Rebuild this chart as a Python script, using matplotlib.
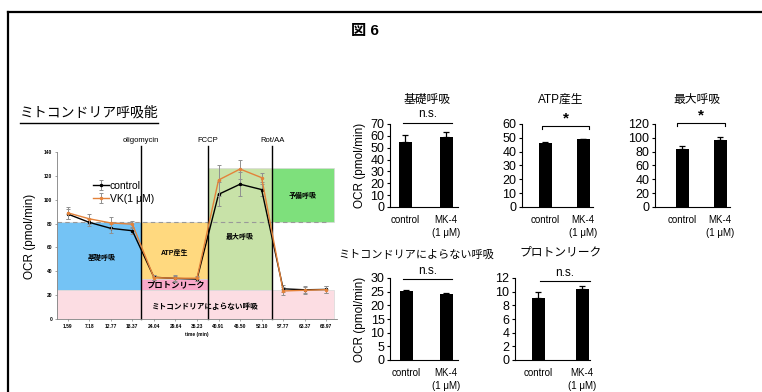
import matplotlib.pyplot as plt
import numpy as np
from matplotlib.lines import Line2D
from matplotlib.patches import Rectangle

plt.rcParams['font.family'] = ['Liberation Sans', 'Noto Sans CJK JP', 'DejaVu Sans']

# time course (min) and OCR
times = ['1.59', '7.18', '12.77', '18.37', '24.04', '29.64', '35.23',
         '40.91', '46.50', '52.10', '57.77', '63.37', '68.97']
ctrl = [88, 81, 76, 74, 35, 34, 33.5, 104.5, 113, 108.5, 25.3, 24.5, 24.8]
ctrl_err = [4, 3, 4, 3, 2, 2, 2, 10, 10, 5, 3, 3, 3]
vk = [89, 84, 80.5, 79.5, 34.7, 34.2, 34.2, 116.5, 125.7, 118.5, 23.5, 24.1, 24.6]
vk_err = [5, 4, 5, 3, 2, 3, 2, 13, 8, 4, 3, 3, 3]

injections = ['oligomycin', 'FCCP', 'Rot/AA']
inj_pos = [3.4, 6.5, 9.5]

# bar panels
groups = ['control', 'MK-4\n(1 μM)']
titles = ['基礎呼吸', 'ATP産生', '最大呼吸', 'ミトコンドリアによらない呼吸', 'プロトンリーク']
bar_vals = [[55, 59], [46.2, 48.8], [84, 97], [25.1, 24.2], [9.1, 10.4]]
bar_errs = [[6, 4], [0.5, 0.7], [4, 4], [0.6, 0.4], [0.8, 0.5]]
ymaxes = [70, 60, 120, 30, 12]
ysteps = [10, 10, 20, 5, 2]
sig_marks = ['n.s.', '*', '*', 'n.s.', 'n.s.']
sig_y = [71.2, 58.8, 122, 29.6, 11.5]
has_ends = [False, True, True, False, False]

# layout in figure pixels
boxes = [(390, 124, 458, 207), (522, 124, 593, 207), (655, 124, 730, 207),
         (390, 278, 458, 360), (515, 278, 590, 360)]
bar_px = [(405, 446), (545, 583), (682, 720), (406, 446), (538, 582)]
brk_px = [(403, 452), (542, 589), (677, 725), (403, 452), (540, 590)]
title_px = [(427, 100), (561, 100), (697, 100), (416, 255), (561, 253)]
title_size = [8.5, 8.5, 8.5, 8, 8.5]
ylabel_on = [True, False, False, True, False]

W, H = 762, 392
fig = plt.figure(figsize=(W / 100, H / 100), dpi=100)


def frac(l, t, r, b):
    return [l / W, 1 - b / H, (r - l) / W, (b - t) / H]


# frame lines
fig.add_artist(Line2D([8 / W, 1], [1 - 12 / H, 1 - 12 / H], color='black', lw=1.6))
fig.add_artist(Line2D([8 / W, 8 / W], [0, 1 - 12 / H], color='black', lw=1.6))
fig.text(365 / W, 1 - 31 / H, '図 6', ha='center', va='center', fontsize=11, fontweight='bold')

# section heading with underline
fig.text(20 / W, 1 - 113 / H, 'ミトコンドリア呼吸能', ha='left', va='center', fontsize=10)
fig.add_artist(Line2D([20 / W, 158 / W], [1 - 123 / H, 1 - 123 / H], color='black', lw=1))

# ---- time course ----
ax = fig.add_axes(frac(57, 152, 337, 319))
x = np.arange(len(times))
xend = 12.36
regions = [
    (-0.5, 24, inj_pos[0] + 0.5, 57, '#74c3f5'),
    (inj_pos[0], 33.6, inj_pos[1] - inj_pos[0], 81 - 33.6, '#ffd97f'),
    (inj_pos[0], 24, inj_pos[1] - inj_pos[0], 9.6, '#f9a9c9'),
    (inj_pos[1], 24, inj_pos[2] - inj_pos[1], 102.6, '#c8e2a8'),
    (inj_pos[2], 81, xend - inj_pos[2], 45.6, '#7ee07c'),
    (-0.5, 0, xend + 0.5, 24, '#fcdde3'),
]
for rx, ry, rw, rh, c in regions:
    ax.add_patch(Rectangle((rx, ry), rw, rh, facecolor=c, edgecolor='#d8d8d8', lw=0.5, zorder=0))
ax.plot([-0.5, 12.1], [81, 81], color='#999999', lw=0.8, ls=(0, (4, 3)), zorder=1)

for xp, name in zip(inj_pos, injections):
    ax.plot([xp, xp], [0, 145], color='black', lw=1, clip_on=False, zorder=2)
    ax.text(xp, 147, name, ha='center', va='bottom', fontsize=5.5)

ax.errorbar(x, ctrl, yerr=ctrl_err, color='black', ecolor='#909090', elinewidth=0.7,
            capsize=1.5, capthick=0.7, lw=1, marker='.', ms=3, label='control', zorder=3)
ax.errorbar(x, vk, yerr=vk_err, color='#e3823a', ecolor='#909090', elinewidth=0.7,
            capsize=1.5, capthick=0.7, lw=1, marker='.', ms=3, label='VK(1 μM)', zorder=4)

ax.text(1.59, 51, '基礎呼吸', ha='center', va='center', fontsize=5, fontweight='bold')
ax.text(4.98, 55, 'ATP産生', ha='center', va='center', fontsize=5, fontweight='bold')
ax.text(8.0, 68, '最大呼吸', ha='center', va='center', fontsize=5, fontweight='bold')
ax.text(10.92, 103, '予備呼吸', ha='center', va='center', fontsize=5, fontweight='bold')
ax.text(4.98, 28.5, 'プロトンリーク', ha='center', va='center', fontsize=6, fontweight='bold')
ax.text(6.37, 10, 'ミトコンドリアによらない呼吸', ha='center', va='center', fontsize=5.5, fontweight='bold')

ax.set_xlim(-0.5, 12.5)
ax.set_ylim(0, 140)
ax.set_yticks(np.arange(0, 141, 20))
ax.set_xticks(x)
ax.set_xticklabels(times)
ax.tick_params(labelsize=3.5, length=1.5, width=0.5, color='#808080', pad=2)
for lab in ax.get_xticklabels() + ax.get_yticklabels():
    lab.set_fontweight('bold')
ax.set_xlabel('time (min)', fontsize=3.5, fontweight='bold', labelpad=2)
for s in ['top', 'right']:
    ax.spines[s].set_visible(False)
for s in ['left', 'bottom']:
    ax.spines[s].set_color('#808080')
    ax.spines[s].set_linewidth(0.6)
fig.text(30 / W, 1 - 236 / H, 'OCR (pmol/min)', rotation=90, ha='center', va='center', fontsize=8.5)
ax.legend(loc='upper left', bbox_to_anchor=(0.11, 0.86), frameon=False, fontsize=7.5,
          handlelength=1.5, handletextpad=0.1, labelspacing=0.3, borderpad=0)

# ---- bar panels ----
for i in range(5):
    l, t, r, b = boxes[i]
    c0, c1 = bar_px[i]
    unit = c1 - c0
    ymax = ymaxes[i]
    bx = fig.add_axes(frac(l, t, r, b))
    pos = np.arange(2)
    bx.bar(pos, bar_vals[i], width=13 / unit, color='black')
    bx.errorbar(pos, bar_vals[i], yerr=[[0, 0], bar_errs[i]], fmt='none', ecolor='black',
                elinewidth=0.9, capsize=2.5, capthick=0.9)
    bx.set_xlim((l - c0) / unit, (r - c0) / unit)
    bx.set_ylim(0, ymax)
    bx.set_yticks(np.arange(0, ymax + 1, ysteps[i]))
    bx.set_xticks(pos)
    bx.set_xticklabels(groups, fontsize=7, linespacing=1.3)
    for lab in bx.get_xticklabels():
        lab.set_verticalalignment('top')
    bx.tick_params(axis='x', length=0, pad=6)
    bx.tick_params(axis='y', labelsize=9, length=2.5, width=0.8, pad=1.5)
    for s in ['top', 'right']:
        bx.spines[s].set_visible(False)
    for s in ['left', 'bottom']:
        bx.spines[s].set_linewidth(0.8)

    # significance bracket
    xa = (brk_px[i][0] - c0) / unit
    xb = (brk_px[i][1] - c0) / unit
    yb = sig_y[i]
    drop = ymax * 0.04
    if has_ends[i]:
        bx.plot([xa, xa, xb, xb], [yb - drop, yb, yb, yb - drop], color='black', lw=0.8, clip_on=False)
        bx.text((xa + xb) / 2, yb, sig_marks[i], ha='center', va='bottom',
                fontsize=11, fontweight='bold')
    else:
        bx.plot([xa, xb], [yb, yb], color='black', lw=0.8, clip_on=False)
        bx.text((xa + xb) / 2, yb + ymax * 0.03, sig_marks[i], ha='center', va='bottom', fontsize=8.5)

    fig.text(title_px[i][0] / W, 1 - title_px[i][1] / H, titles[i], ha='center', va='center',
             fontsize=title_size[i])
    if ylabel_on[i]:
        bx.set_ylabel('OCR (pmol/min)', fontsize=8.5, labelpad=3)

fig.savefig('out.png', dpi=100)
